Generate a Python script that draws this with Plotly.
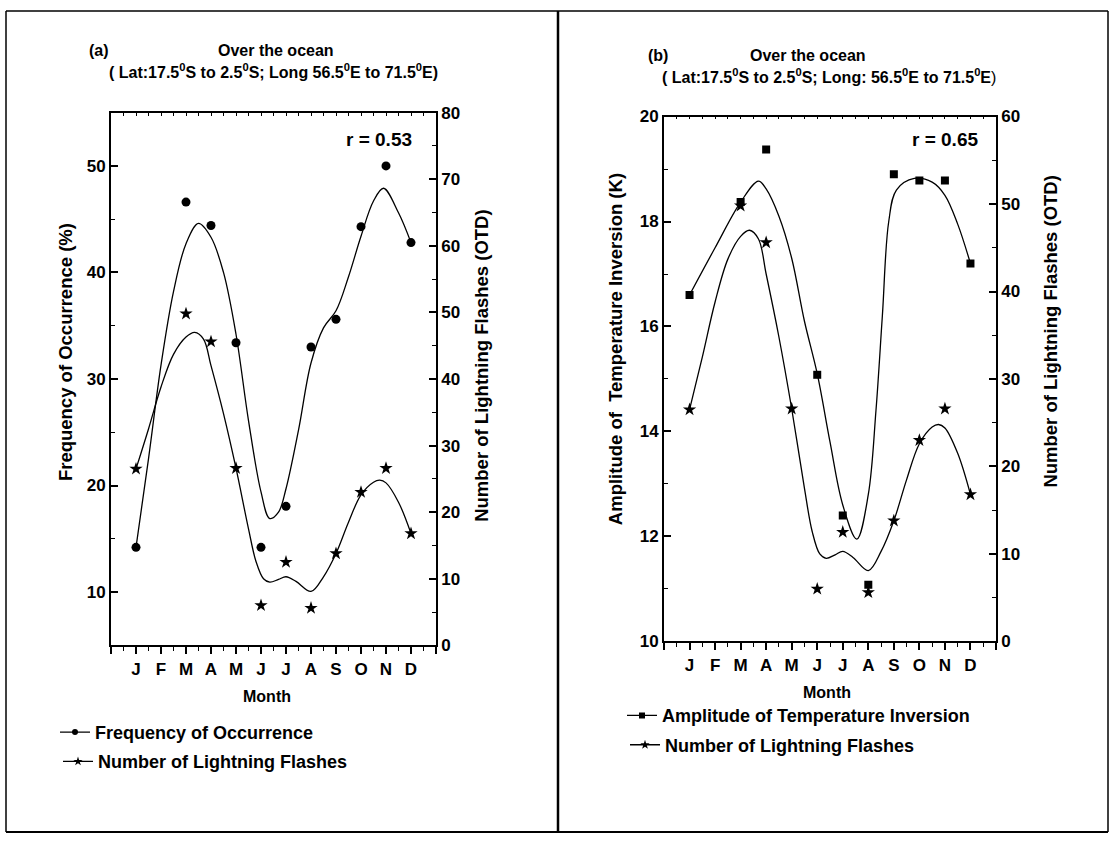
import plotly.graph_objects as go

W, H = 1112, 845
FONT = "Liberation Sans, Arial, sans-serif"

# ---------------- data ----------------
months = list(range(1, 13))
month_labels = ['J', 'F', 'M', 'A', 'M', 'J', 'J', 'A', 'S', 'O', 'N', 'D']

freq_occurrence = [14.2, None, 46.6, 44.4, 33.4, 14.2, 18.05, 33.0, 35.6, 44.3, 50.0, 42.8]
lightning_flashes = [26.5, None, 49.8, 45.6, 26.6, 6.0, 12.5, 5.6, 13.8, 23.0, 26.6, 16.8]
amp_inversion = [16.6, None, 18.37, 19.37, None, 15.08, 12.40, 11.08, 18.9, 18.78, 18.78, 17.2]

# smoothed curves
freq_curve_x = [1, 1.5, 2, 2.5, 3, 3.5, 4, 4.5, 5, 5.5, 6, 6.35, 6.7, 7, 7.5, 8, 8.5, 9, 9.5, 10, 10.5, 10.9, 11.5, 12]
freq_curve_y = [14.2, 22.5, 31.3, 38.2, 42.7, 44.6, 43.3, 40.0, 34.2, 26.1, 19.4, 16.9, 17.5, 19.7, 25.2, 31.5, 34.8, 36.4, 39.6, 43.4, 46.7, 47.9, 45.6, 42.8]

flash_curve_x = [1, 1.5, 2, 2.5, 3, 3.35, 3.7, 4, 4.5, 5, 5.5, 5.8, 6.1, 6.35, 6.7, 7, 7.4, 8, 8.5, 9, 9.5, 10, 10.5, 10.75, 11, 11.5, 12]
flash_curve_y = [26.5, 32.5, 38.8, 43.7, 46.3, 47.0, 46.0, 42.0, 34.8, 26.6, 17.5, 12.6, 10.0, 9.5, 9.9, 10.3, 9.6, 8.1, 10.3, 13.8, 18.5, 22.6, 24.5, 24.8, 24.4, 21.5, 16.8]

amp_curve_x = [1, 2, 3, 3.7, 4, 4.5, 5, 5.5, 6, 6.5, 7, 7.55, 8, 8.3, 8.55, 8.8, 9.1, 9.8, 10.5, 11, 11.5, 12]
amp_curve_y = [16.6, 17.5, 18.37, 18.77, 18.62, 18.1, 17.3, 16.1, 15.1, 13.8, 12.6, 11.95, 12.8, 14.4, 16.2, 18.0, 18.6, 18.82, 18.75, 18.5, 17.95, 17.2]

x_tickvals = list(range(0, 14))
x_ticktext = [''] + month_labels + ['']


def px(x):
    return x / W


def py(y):
    return 1 - y / H


fig = go.Figure()

LINE = dict(color='black', width=1.3)

# ---- panel (a) ----
fig.add_trace(go.Scatter(x=freq_curve_x, y=freq_curve_y, mode='lines', line=dict(shape='spline', **LINE),
                         xaxis='x', yaxis='y', showlegend=False, hoverinfo='skip'))
fig.add_trace(go.Scatter(x=months, y=freq_occurrence, mode='markers', marker=dict(symbol='circle', size=9, color='black'),
                         xaxis='x', yaxis='y', showlegend=False))
fig.add_trace(go.Scatter(x=flash_curve_x, y=flash_curve_y, mode='lines', line=dict(shape='spline', **LINE),
                         xaxis='x', yaxis='y2', showlegend=False, hoverinfo='skip'))
fig.add_trace(go.Scatter(x=months, y=lightning_flashes, mode='markers', marker=dict(symbol='star', size=10, color='black'),
                         xaxis='x', yaxis='y2', showlegend=False))
fig.add_trace(go.Scatter(x=[None], y=[None], xaxis='x3', yaxis='y', showlegend=False))

# ---- panel (b) ----
fig.add_trace(go.Scatter(x=amp_curve_x, y=amp_curve_y, mode='lines', line=dict(shape='spline', **LINE),
                         xaxis='x2', yaxis='y3', showlegend=False, hoverinfo='skip'))
fig.add_trace(go.Scatter(x=months, y=amp_inversion, mode='markers', marker=dict(symbol='square', size=8, color='black'),
                         xaxis='x2', yaxis='y3', showlegend=False))
fig.add_trace(go.Scatter(x=flash_curve_x, y=flash_curve_y, mode='lines', line=dict(shape='spline', **LINE),
                         xaxis='x2', yaxis='y4', showlegend=False, hoverinfo='skip'))
fig.add_trace(go.Scatter(x=months, y=lightning_flashes, mode='markers', marker=dict(symbol='star', size=10, color='black'),
                         xaxis='x2', yaxis='y4', showlegend=False))
fig.add_trace(go.Scatter(x=[None], y=[None], xaxis='x4', yaxis='y3', showlegend=False))

# ---- legend entries ----
leg_items = [
    ('Frequency of Occurrence', 'circle', 6, 'legend'),
    ('Number of Lightning Flashes', 'star', 7, 'legend2'),
    ('Amplitude of Temperature Inversion', 'square', 6, 'legend3'),
    ('Number of Lightning Flashes', 'star', 7, 'legend4'),
]
for name, sym, sz, lg in leg_items:
    fig.add_trace(go.Scatter(x=[None], y=[None], mode='lines+markers', name=name,
                             line=dict(color='black', width=1.3),
                             marker=dict(symbol=sym, size=sz, color='black'),
                             xaxis='x', yaxis='y', legend=lg, showlegend=True))

tickfont = dict(family=FONT, size=17, color='black', weight='bold')


def xbottom(domain, anchor):
    return dict(domain=domain, anchor=anchor, range=[0, 13], tickmode='array', tickvals=x_tickvals,
                ticktext=x_ticktext, ticks='outside', ticklen=7, tickwidth=1.5, tickcolor='black',
                minor=dict(tickmode='linear', tick0=0, dtick=0.5, ticks='outside', ticklen=4, tickwidth=1.2, tickcolor='black'),
                showline=True, linecolor='black', linewidth=1.8, showgrid=False, zeroline=False,
                tickfont=tickfont, fixedrange=True)


def xtop(domain, overlay, anchor):
    return dict(domain=domain, overlaying=overlay, anchor=anchor, side='top', range=[0, 13], tickmode='array',
                tickvals=x_tickvals, ticktext=['' for _ in x_tickvals], ticks='inside', ticklen=6, tickwidth=1.3,
                tickcolor='black',
                minor=dict(tickmode='linear', tick0=0, dtick=0.5, ticks='inside', ticklen=3, tickwidth=1.1, tickcolor='black'),
                showline=True, linecolor='black', linewidth=1.8, showgrid=False, zeroline=False, showticklabels=False)


def yax(domain, anchor, rng, dtick, mdtick, side='left', overlay=None):
    d = dict(domain=domain, anchor=anchor, range=rng, tickmode='linear', tick0=0, dtick=dtick, side=side,
             ticks='inside', ticklen=7, tickwidth=1.5, tickcolor='black',
             minor=dict(tickmode='linear', tick0=0, dtick=mdtick, ticks='inside', ticklen=4, tickwidth=1.2, tickcolor='black'),
             showline=True, linecolor='black', linewidth=1.8, showgrid=False, zeroline=False,
             tickfont=tickfont, fixedrange=True)
    if overlay:
        d['overlaying'] = overlay
    return d


xa_dom = [px(111), px(436)]
ya_dom = [py(651), py(106)]
xb_dom = [px(664), px(996)]
yb_dom = [py(647), py(110)]

left_a = yax(ya_dom, 'x', [5, 55], 10, 5)
left_a['tickvals'] = [10, 20, 30, 40, 50]
left_a['tickmode'] = 'array'

fig.update_layout(
    width=W, height=H, margin=dict(l=0, r=0, t=0, b=0),
    paper_bgcolor='white', plot_bgcolor='white',
    font=dict(family=FONT, color='black'),
    xaxis=xbottom(xa_dom, 'y'),
    xaxis3=xtop(xa_dom, 'x', 'y'),
    yaxis=left_a,
    yaxis2=yax(ya_dom, 'x', [0, 80], 10, 5, side='right', overlay='y'),
    xaxis2=xbottom(xb_dom, 'y3'),
    xaxis4=xtop(xb_dom, 'x2', 'y3'),
    yaxis3=yax(yb_dom, 'x2', [10, 20], 2, 1),
    yaxis4=yax(yb_dom, 'x2', [0, 60], 10, 5, side='right', overlay='y3'),
)

legfont = dict(family=FONT, size=18, color='black', weight='bold')
leg_pos = {'legend': (55, 740), 'legend2': (58, 770), 'legend3': (622, 723), 'legend4': (625, 753)}
for lg, (lx, ly) in leg_pos.items():
    fig.update_layout({lg: dict(x=px(lx), y=py(ly), xanchor='left', yanchor='middle', font=legfont,
                                bgcolor='rgba(0,0,0,0)', borderwidth=0, itemclick=False, itemdoubleclick=False)})


def ann(text, x, y, size, angle=0, weight='bold'):
    fig.add_annotation(text=text, x=px(x), y=py(y), xref='paper', yref='paper', showarrow=False,
                       xanchor='center', yanchor='middle', textangle=angle,
                       font=dict(family=FONT, size=size, color='black', weight=weight))


# titles
ann('(a)', 99, 42, 16)
ann('Over the ocean', 276, 42, 16)
ann('( Lat:17.5<sup>0</sup>S to 2.5<sup>0</sup>S; Long 56.5<sup>0</sup>E to 71.5<sup>0</sup>E)', 273, 63, 16)
ann('(b)', 658, 48, 16)
ann('Over the ocean', 808, 48, 16)
ann('( Lat:17.5<sup>0</sup>S to 2.5<sup>0</sup>S; Long: 56.5<sup>0</sup>E to 71.5<sup>0</sup>E<span style="font-weight:normal">)</span>',
    829, 69, 16)

# r values
ann('r = 0.53', 379, 133, 19)
ann('r = 0.65', 945, 133, 19)

# axis titles
ann('Frequency of Occurrence (%)', 65, 351, 18.5, angle=-90)
ann('Number of Lightning Flashes (OTD)', 482, 365, 18.5, angle=-90)
ann('Amplitude of  Temperature Inversion (K)', 615, 348, 18.5, angle=-90)
ann('Number of Lightning Flashes (OTD)', 1051, 330, 18.5, angle=-90)
ann('Month', 267, 703, 16)
ann('Month', 827, 699, 16)


# frame
def hline(x0, x1, y, w=1.5):
    fig.add_shape(type='line', xref='paper', yref='paper', x0=px(x0), x1=px(x1), y0=py(y), y1=py(y),
                  line=dict(color='black', width=w))


def vline(x, y0, y1, w=1.5):
    fig.add_shape(type='line', xref='paper', yref='paper', x0=px(x), x1=px(x), y0=py(y0), y1=py(y1),
                  line=dict(color='black', width=w))


hline(6, 1108, 2)
hline(6, 1108, 842, 2)
vline(6, 2, 842)
vline(1108, 2, 842)
vline(558, 2, 842, 2.5)

fig.write_html("out.html")
